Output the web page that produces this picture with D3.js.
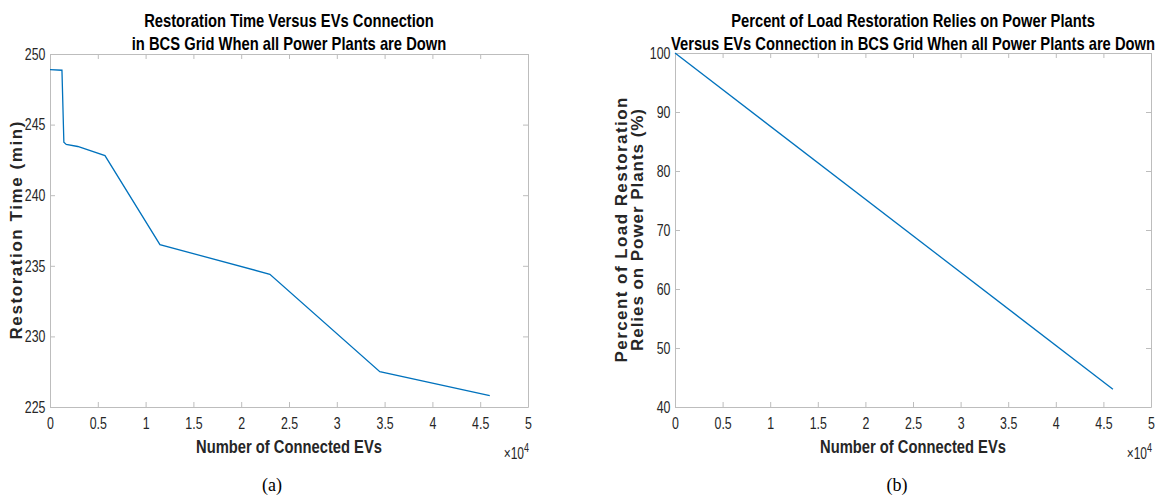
<!DOCTYPE html>
<html><head><meta charset="utf-8">
<script src="https://cdn.jsdelivr.net/npm/d3@7"></script>
<style>
body{margin:0;background:#fff;}
svg{display:block;}
.tick text{font-family:"Liberation Sans",Arial,sans-serif;font-size:16.5px;fill:#262626;}
</style></head><body>
<svg id="c" width="1157" height="497"></svg>
<script>
// Panel (a): restoration time vs connected EVs
const evsA = [0, 1250, 1450, 1700, 2900, 5750, 11500, 23000, 34500, 46000];
const timeA = [248.9, 248.85, 243.75, 243.6, 243.45, 242.8, 236.5, 234.4, 227.5, 225.8];
// Panel (b): percent of load restoration relying on power plants
const evsB = [0, 46000];
const pctB = [100, 43];
const xTicks = [0, 0.5, 1, 1.5, 2, 2.5, 3, 3.5, 4, 4.5, 5];
const yTicksA = [225, 230, 235, 240, 245, 250];
const yTicksB = [40, 50, 60, 70, 80, 90, 100];

const svg = d3.select("#c");
const sans = '"Liberation Sans",Arial,sans-serif';
const axisCol = "#bdbdbd";
const SX = 0.75;

function narrowText(g, x, y, str, size, bold, col, anchor, sx){
  return g.append("text").attr("transform",`translate(${x},${y}) scale(${sx||SX},1)`)
    .attr("text-anchor",anchor||"middle")
    .style("font-family",sans).style("font-size",size+"px")
    .style("font-weight",bold?"bold":"normal").attr("fill",col).text(str);
}

function panel(cfg){
  const g = svg.append("g");
  const x = d3.scaleLinear().domain([0, 50000]).range([cfg.x0, cfg.x1]);
  const y = d3.scaleLinear().domain(cfg.ydom).range([cfg.y1, cfg.y0]);
  const tl = 5;
  const bx = g.append("g").attr("transform",`translate(0,${cfg.y1})`)
    .call(d3.axisBottom(x).tickValues(xTicks.map(v=>v*1e4)).tickFormat(v=>d3.format("~g")(v/1e4)).tickSizeInner(-tl).tickSizeOuter(0).tickPadding(10));
  const ly = g.append("g").attr("transform",`translate(${cfg.x0},0)`)
    .call(d3.axisLeft(y).tickValues(cfg.yticks).tickSizeInner(-tl).tickSizeOuter(0).tickPadding(6));
  const tx = g.append("g").attr("transform",`translate(0,${cfg.y0})`)
    .call(d3.axisTop(x).tickValues(xTicks.map(v=>v*1e4)).tickFormat("").tickSizeInner(-tl).tickSizeOuter(0));
  const ry = g.append("g").attr("transform",`translate(${cfg.x1},0)`)
    .call(d3.axisRight(y).tickValues(cfg.yticks).tickFormat("").tickSizeInner(-tl).tickSizeOuter(0));
  [bx,ly,tx,ry].forEach(a=>{a.selectAll("path,line").attr("stroke",axisCol);});
  [bx,ly].forEach(a=>{a.selectAll("text").attr("transform",`scale(${SX},1)`);});
  const line = d3.line().x(d=>x(d[0])).y(d=>y(d[1]));
  g.append("path").datum(cfg.xs.map((v,i)=>[v,cfg.ys[i]]))
    .attr("d",line).attr("fill","none").attr("stroke","#0072BD").attr("stroke-width",1.3);
  const cx = (cfg.x0+cfg.x1)/2;
  cfg.title.forEach((t,i)=>{ narrowText(g, cx, 27+i*23, t, 18, true, "#000", "middle", 0.82); });
  narrowText(g, cx, 453, "Number of Connected EVs", 18, true, "#262626", "middle", 0.82);
  const ex = g.append("text").attr("transform",`translate(${cfg.x1+1},459) scale(${SX},1)`).attr("text-anchor","end")
    .style("font-family",sans).style("font-size","16px").attr("fill","#262626");
  ex.append("tspan").text("\u00d710");
  ex.append("tspan").attr("dy",-7).style("font-size","12px").text("4");
  const ymid = (cfg.y0+cfg.y1)/2;
  cfg.ylabel.forEach((t,i)=>{
    g.append("text").attr("transform",`translate(${cfg.ylx + i*16},${ymid}) rotate(-90)`)
      .attr("text-anchor","middle")
      .attr("textLength",cfg.ylen[i]).attr("lengthAdjust","spacing")
      .style("font-family",sans).style("font-weight","bold").style("font-size","17px")
      .attr("fill","#262626").text(t);
  });
  g.append("text").attr("x",cfg.capx).attr("y",491).attr("text-anchor","middle")
    .style("font-family",'"Liberation Serif","Times New Roman",serif').style("font-size","18px").attr("fill","#000").text(cfg.cap);
}

panel({x0:50,x1:528,y0:54,y1:407,ydom:[225,250],yticks:yTicksA,xs:evsA,ys:timeA,
  title:["Restoration Time Versus EVs Connection","in BCS Grid When all Power Plants are Down"],
  ylabel:["Restoration Time (min)"],ylen:[218],ylx:22,cap:"(a)",capx:272});
panel({x0:675,x1:1151,y0:53,y1:407,ydom:[40,100],yticks:yTicksB,xs:evsB,ys:pctB,
  title:["Percent of Load Restoration Relies on Power Plants","Versus EVs Connection in BCS Grid When all Power Plants are Down"],
  ylabel:["Percent of Load Restoration","Relies on Power Plants (%)"],ylen:[265,242],ylx:627,cap:"(b)",capx:897});
</script>
</body></html>
